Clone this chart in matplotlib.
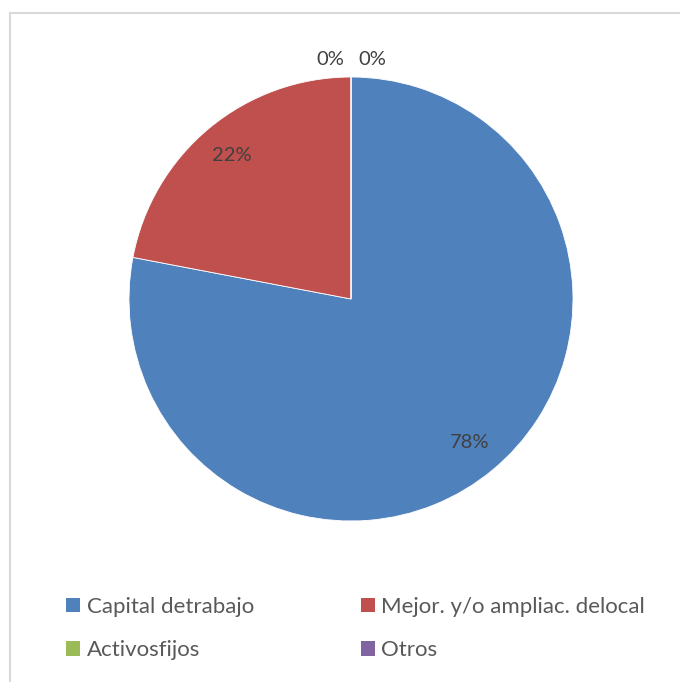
import numpy as np
import matplotlib.pyplot as plt
from matplotlib.patches import Patch
from matplotlib.lines import Line2D

categories = ['Capital detrabajo', 'Mejor. y/o ampliac. delocal', 'Activosfijos', 'Otros']
shares = [78, 22, 0, 0]
colors = ['#4F81BD', '#C0504D', '#9BBB59', '#8064A2']

plt.rcParams['font.family'] = ['Lato', 'DejaVu Sans']

W, H = 680, 682
fig = plt.figure(figsize=(W / 100, H / 100), dpi=100, facecolor='white')

# light frame around the chart area (left and top edges visible)
frame_kw = dict(transform=fig.transFigure, color='#D9D9D9', linewidth=1.5)
fig.add_artist(Line2D([9.5 / W, 1.0], [1 - 12.5 / H, 1 - 12.5 / H], **frame_kw))
fig.add_artist(Line2D([9.5 / W, 9.5 / W], [0.0, 1 - 12.5 / H], **frame_kw))

# pie area: centre (351, 299) px, radius 222 px
cx, cy, r = 351, 299, 222
ax = fig.add_axes([(cx - r) / W, (H - cy - r) / H, 2 * r / W, 2 * r / H])

wedges, _ = ax.pie(
    shares, colors=colors, startangle=90, counterclock=False,
    radius=1.0, wedgeprops=dict(edgecolor='white', linewidth=0.6),
)
ax.set_xlim(-1, 1)
ax.set_ylim(-1, 1)
ax.set_aspect('auto')
ax.axis('off')

zero_offsets = iter([-0.095, 0.095])
for w, v in zip(wedges, shares):
    mid = np.deg2rad((w.theta1 + w.theta2) / 2)
    if v > 0:
        x, y = 0.84 * np.cos(mid), 0.84 * np.sin(mid)
    else:
        x = 1.08 * np.cos(mid) + next(zero_offsets)
        y = 1.08 * np.sin(mid)
    ax.text(x, y, f'{v}%', ha='center', va='center',
            fontsize=14.5, color='#404040')

# legend filled row by row: matplotlib fills columns, so reorder
order = [0, 2, 1, 3]
handles = [Patch(facecolor=colors[i], edgecolor='none') for i in order]
labels = [categories[i] for i in order]
leg = fig.legend(
    handles, labels, ncol=2,
    loc='upper left', bbox_to_anchor=(66 / W, 1 - 597 / H),
    frameon=False, fontsize=16, labelcolor='#595959',
    handlelength=0.63, handleheight=0.63, handletextpad=0.3,
    columnspacing=4.8, labelspacing=1.05, borderpad=0.0, borderaxespad=0.0,
)

fig.savefig('out.png', dpi=100, facecolor='white')
